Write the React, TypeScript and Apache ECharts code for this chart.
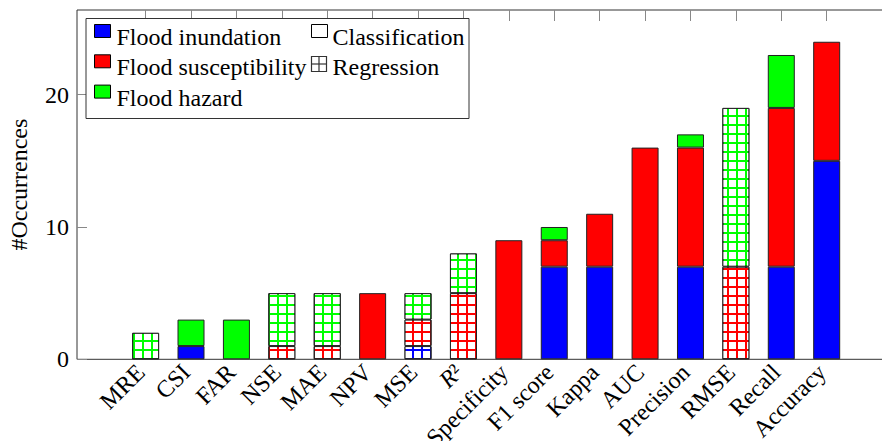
import React, { useEffect, useRef } from "react";
import * as echarts from "echarts";

const categories = ["MRE", "CSI", "FAR", "NSE", "MAE", "NPV", "MSE", "R²", "Specificity", "F1 score", "Kappa", "AUC", "Precision", "RMSE", "Recall", "Accuracy"];
const inundation = [0, 1, 0, 0, 0, 0, 1, 0, 0, 7, 7, 0, 7, 0, 7, 15];
const susceptibility = [0, 0, 0, 1, 1, 5, 2, 5, 9, 2, 4, 16, 9, 7, 12, 9];
const hazard = [2, 2, 3, 4, 4, 0, 2, 3, 0, 1, 0, 0, 1, 12, 4, 0];
const isRegression = [1, 0, 0, 1, 1, 0, 1, 1, 0, 0, 0, 0, 0, 1, 0, 0];
const yTicks = [0, 10, 20];

const FONT = "Liberation Serif";
const groups = [
  { name: "Flood inundation", values: inundation, color: "#0000ff" },
  { name: "Flood susceptibility", values: susceptibility, color: "#ff0000" },
  { name: "Flood hazard", values: hazard, color: "#00ff00" },
];

function buildSeries() {
  const out: any[] = [];
  groups.forEach((g) => {
    out.push({
      name: g.name,
      type: "bar",
      stack: "all",
      xAxisIndex: 1,
      yAxisIndex: 1,
      barWidth: 27,
      itemStyle: { color: g.color, borderColor: "#222", borderWidth: 1 },
      data: g.values.map((v, i) => (isRegression[i] || !v ? "-" : v)),
    });
    out.push({
      name: g.name + " (regression)",
      type: "bar",
      stack: "all",
      xAxisIndex: 1,
      yAxisIndex: 1,
      barWidth: 27,
      itemStyle: {
        color: g.color,
        borderColor: "#222",
        borderWidth: 1,
        decal: {
          symbol: "rect",
          symbolSize: 1,
          dashArrayX: [6.1, 1.4],
          dashArrayY: [6.1, 1.4],
          color: "#ffffff",
        },
      },
      data: g.values.map((v, i) => (!isRegression[i] || !v ? "-" : v)),
    });
  });
  return out;
}

function legendGraphic() {
  const els: any[] = [];
  els.push({
    type: "rect",
    shape: { x: 86, y: 18.5, width: 383, height: 100 },
    style: { fill: "#fff", stroke: "#333", lineWidth: 1 },
    z: 100,
  });
  const rowY = [24.5, 54.8, 85.1];
  groups.forEach((g, i) => {
    els.push({
      type: "rect",
      shape: { x: 94.5, y: rowY[i], width: 16, height: 13 },
      style: { fill: g.color, stroke: "#000", lineWidth: 1 },
      z: 101,
    });
    els.push({
      type: "text",
      x: 116.5,
      y: rowY[i] + 12.5,
      style: { text: g.name, font: `24px '${FONT}'`, fill: "#000", verticalAlign: "middle", align: "left" },
      z: 101,
    });
  });
  els.push({
    type: "rect",
    shape: { x: 311.5, y: 24.5, width: 16, height: 13 },
    style: { fill: "#fff", stroke: "#000", lineWidth: 1 },
    z: 101,
  });
  els.push({
    type: "text",
    x: 332.5,
    y: 37,
    style: { text: "Classification", font: `24px '${FONT}'`, fill: "#000", verticalAlign: "middle", align: "left" },
    z: 101,
  });
  els.push({
    type: "rect",
    shape: { x: 311.5, y: 56.5, width: 15, height: 15 },
    style: { fill: "#fff", stroke: "#333", lineWidth: 1.2 },
    z: 101,
  });
  els.push({
    type: "line",
    shape: { x1: 319, y1: 56.5, x2: 319, y2: 71.5 },
    style: { stroke: "#333", lineWidth: 1.2 },
    z: 101,
  });
  els.push({
    type: "line",
    shape: { x1: 311.5, y1: 64, x2: 326.5, y2: 64 },
    style: { stroke: "#333", lineWidth: 1.2 },
    z: 101,
  });
  els.push({
    type: "text",
    x: 332.5,
    y: 67.3,
    style: { text: "Regression", font: `24px '${FONT}'`, fill: "#000", verticalAlign: "middle", align: "left" },
    z: 101,
  });
  return els;
}

export default function App() {
  const ref = useRef<HTMLDivElement>(null);
  useEffect(() => {
    if (!ref.current) return;
    const chart = echarts.init(ref.current, undefined, { renderer: "svg" });
    const yMax = 26.4;
    chart.setOption({
      animation: false,
      backgroundColor: "#fff",
      textStyle: { fontFamily: FONT },
      grid: [
        { left: 77, right: -13.5, top: 10, bottom: 81.7, show: true, borderColor: "#333", borderWidth: 1, backgroundColor: "transparent", outerBoundsMode: "none", containLabel: false },
        { left: 122.9, right: 32.6, top: 10, bottom: 81.7, outerBoundsMode: "none", containLabel: false },
      ],
      xAxis: [
        { type: "value", gridIndex: 0, show: false, min: 0, max: 1 },
        {
          type: "category",
          gridIndex: 1,
          data: categories,
          position: "bottom",
          axisLine: { show: false },
          axisTick: { show: false },
          axisLabel: {
            interval: 0,
            rotate: 45,
            margin: 4,
            padding: [0, 7, 0, 0],
            fontSize: 24,
            color: "#000",
            fontFamily: FONT,
            formatter: (v: string) => (v === "R²" ? "{i|R}²" : v),
            rich: { i: { fontStyle: "italic", fontSize: 24, fontFamily: FONT, color: "#000" } },
          },
        },
        {
          type: "category",
          gridIndex: 1,
          data: categories,
          position: "top",
          axisLine: { show: false },
          axisLabel: { show: false },
          axisTick: { show: true, inside: true, alignWithLabel: true, interval: 0, length: 11, lineStyle: { color: "#888", width: 1 } },
        },
      ],
      yAxis: [
        {
          type: "value",
          gridIndex: 0,
          min: 0,
          max: yMax,
          interval: 10,
          name: "#Occurrences",
          nameLocation: "middle",
          nameRotate: 90,
          nameGap: 46,
          nameTextStyle: { fontSize: 24, color: "#000", fontFamily: FONT },
          axisLine: { show: false },
          splitLine: { show: false },
          axisTick: { show: true, inside: true, length: 10, lineStyle: { color: "#888", width: 1 } },
          axisLabel: {
            fontSize: 24,
            color: "#000",
            margin: 8,
            fontFamily: FONT,
            showMaxLabel: false,
            formatter: (v: number) => (yTicks.includes(v) ? String(v) : ""),
          },
        },
        { type: "value", gridIndex: 1, min: 0, max: yMax, show: false, splitLine: { show: false } },
      ],
      series: buildSeries(),
      graphic: legendGraphic(),
    });
    return () => chart.dispose();
  }, []);
  return <div ref={ref} style={{ position: "absolute", left: 0, top: 0, width: 882, height: 441 }} />;
}
